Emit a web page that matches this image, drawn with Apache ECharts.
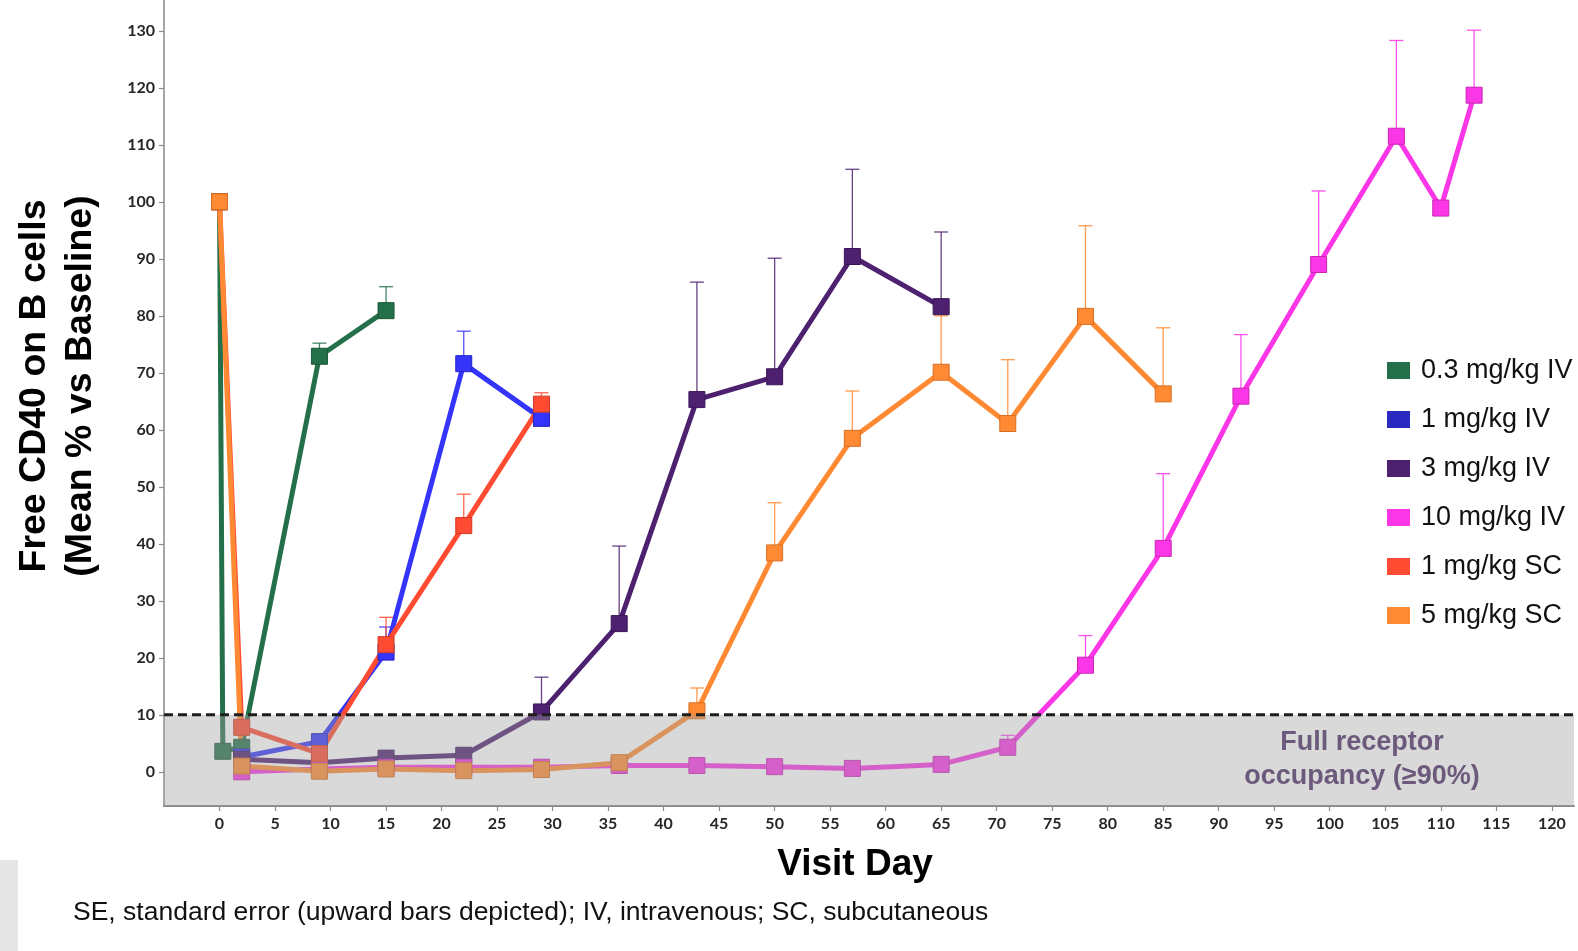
<!DOCTYPE html>
<html>
<head>
<meta charset="utf-8">
<script src="https://cdn.jsdelivr.net/npm/echarts@6/dist/echarts.min.js"></script>
<style>
  html, body { margin: 0; padding: 0; background: #ffffff; }
  #chart { width: 1578px; height: 951px; }
</style>
</head>
<body>
<div id="chart"></div>
<script>
// Free CD40 on B cells, mean % vs baseline, by dose cohort.
// Each cohort: visit days, mean values, upward SE.
const seriesNames = ['0.3 mg/kg IV', '1 mg/kg IV', '3 mg/kg IV', '10 mg/kg IV', '1 mg/kg SC', '5 mg/kg SC'];

const iv03Days = [0, 0.3, 2, 9, 15];
const iv03Mean = [100, 3.6, 4.3, 72.9, 80.9];
const iv03SE   = [0, 0, 0, 2.3, 4.2];

const iv1Days = [2, 9, 15, 22, 29];
const iv1Mean = [2.6, 5.3, 21.0, 71.6, 62.0];
const iv1SE   = [0, 1.3, 4.4, 5.7, 3.2];

const iv3Days = [2, 9, 15, 22, 29, 36, 43, 50, 57, 65];
const iv3Mean = [2.2, 1.6, 2.4, 2.9, 10.5, 26.0, 65.3, 69.3, 90.4, 81.6];
const iv3SE   = [0, 0, 0, 0, 6.1, 13.6, 20.6, 20.8, 15.3, 13.1];

const iv10Days = [2, 9, 15, 22, 29, 36, 43, 50, 57, 65, 71, 78, 85, 92, 99, 106, 110, 113];
const iv10Mean = [0.0, 0.5, 0.8, 0.8, 0.8, 1.1, 1.1, 0.9, 0.6, 1.3, 4.3, 18.7, 39.2, 65.9, 89.0, 111.5, 98.9, 118.7];
const iv10SE   = [0, 0, 0, 0, 0, 0, 0, 0, 0, 0, 2.1, 5.2, 13.1, 10.8, 12.9, 16.8, 0, 11.4];

const sc1Days = [0, 2, 9, 15, 22, 29];
const sc1Mean = [100, 7.8, 3.2, 22.3, 43.2, 64.5];
const sc1SE   = [0, 0, 0, 4.8, 5.5, 2.0];

const sc5Days = [0, 2, 9, 15, 22, 29, 36, 43, 50, 57, 65, 71, 78, 85];
const sc5Mean = [100, 1.0, 0.1, 0.5, 0.2, 0.4, 1.6, 10.7, 38.4, 58.5, 70.1, 61.1, 79.9, 66.3];
const sc5SE   = [0, 0, 0, 0, 0, 0, 0, 4.0, 8.8, 8.3, 9.9, 11.2, 15.9, 11.6];

const xTicks = [0, 5, 10, 15, 20, 25, 30, 35, 40, 45, 50, 55, 60, 65, 70, 75, 80, 85, 90, 95, 100, 105, 110, 115, 120];
const yTicks = [0, 10, 20, 30, 40, 50, 60, 70, 80, 90, 100, 110, 120, 130];

// Full receptor occupancy threshold (free CD40 at or below 10%)
const occupancyThreshold = 10;

const cohorts = [
  { days: iv03Days, mean: iv03Mean, se: iv03SE, line: '#23704a', border: '#1a5737', legend: '#23704a' },
  { days: iv1Days,  mean: iv1Mean,  se: iv1SE,  line: '#3434fb', border: '#2424c4', legend: '#2a2ac0' },
  { days: iv3Days,  mean: iv3Mean,  se: iv3SE,  line: '#4d2170', border: '#3a1656', legend: '#4d2170' },
  { days: iv10Days, mean: iv10Mean, se: iv10SE, line: '#fb36e6', border: '#c826b5', legend: '#fb36e6' },
  { days: sc1Days,  mean: sc1Mean,  se: sc1SE,  line: '#ff4b32', border: '#d23a24', legend: '#ff4b32' },
  { days: sc5Days,  mean: sc5Mean,  se: sc5SE,  line: '#ff8a33', border: '#d86e22', legend: '#ff8a33' }
];

const chart = echarts.init(document.getElementById('chart'), null, { renderer: 'canvas' });

function errorBarRenderer(color) {
  return function (params, api) {
    const x = api.value(0);
    const base = api.coord([x, api.value(1)]);
    const top = api.coord([x, api.value(2)]);
    const half = 7;
    const style = { stroke: color, lineWidth: 1.3, opacity: 0.85 };
    return {
      type: 'group',
      children: [
        { type: 'line', shape: { x1: base[0], y1: base[1], x2: top[0], y2: top[1] }, style: style },
        { type: 'line', shape: { x1: top[0] - half, y1: top[1], x2: top[0] + half, y2: top[1] }, style: style }
      ]
    };
  };
}

const series = [];

// upward SE bars, beneath the lines
cohorts.forEach(function (c, i) {
  const bars = [];
  c.days.forEach(function (d, k) {
    if (c.se[k] > 0) bars.push([d, c.mean[k], c.mean[k] + c.se[k]]);
  });
  series.push({
    type: 'custom',
    name: seriesNames[i] + ' SE',
    silent: true,
    z: 2,
    encode: { x: 0, y: [1, 2] },
    renderItem: errorBarRenderer(c.line),
    data: bars
  });
});

cohorts.forEach(function (c, i) {
  series.push({
    type: 'line',
    name: seriesNames[i],
    z: 3,
    symbol: 'rect',
    symbolSize: 16,
    showAllSymbol: true,
    lineStyle: { width: 5, color: c.line },
    itemStyle: { color: c.line, borderColor: c.border, borderWidth: 1 },
    emphasis: { disabled: true },
    data: c.days.map(function (d, k) { return [d, c.mean[k]]; })
  });
});

// translucent occupancy band laid over the curves, with its dashed threshold
series.push({
  type: 'custom',
  name: 'occupancy band',
  silent: true,
  z: 10,
  data: [[0, occupancyThreshold]],
  renderItem: function (params, api) {
    const cs = params.coordSys;
    const yTop = api.coord([0, occupancyThreshold])[1];
    return {
      type: 'group',
      children: [
        { type: 'rect', shape: { x: cs.x, y: yTop, width: cs.width, height: cs.y + cs.height - yTop },
          style: { fill: 'rgba(160,160,160,0.4)' } },
        { type: 'line', shape: { x1: cs.x, y1: yTop, x2: cs.x + cs.width, y2: yTop },
          style: { stroke: '#1e1e1e', lineWidth: 3, lineDash: [9, 5] } }
      ]
    };
  }
});

const option = {
  animation: false,
  backgroundColor: '#ffffff',
  grid: { left: 164, right: 4, top: 0, bottom: 145 },
  xAxis: {
    type: 'value',
    min: -5,
    max: 122,
    axisLine: { show: true, onZero: false, lineStyle: { color: '#8a8a8a', width: 2 } },
    axisTick: { show: true, length: 5, customValues: xTicks, lineStyle: { color: '#8a8a8a', width: 1.2 } },
    axisLabel: { customValues: xTicks, margin: 10, fontFamily: 'Lato', fontWeight: 'bold', fontSize: 16, color: '#262626' },
    splitLine: { show: false }
  },
  yAxis: {
    type: 'value',
    min: -6,
    max: 135.4,
    axisLine: { show: true, onZero: false, lineStyle: { color: '#8a8a8a', width: 1.5 } },
    axisTick: { show: true, length: 5, customValues: yTicks, lineStyle: { color: '#8a8a8a', width: 1.2 } },
    axisLabel: { customValues: yTicks, margin: 9, fontFamily: 'Lato', fontWeight: 'bold', fontSize: 16, color: '#262626' },
    splitLine: { show: false }
  },
  legend: {
    orient: 'vertical',
    left: 1382,
    top: 352,
    itemWidth: 23,
    itemHeight: 17,
    itemGap: 22,
    icon: 'rect',
    selectedMode: false,
    itemStyle: { borderWidth: 0 },
    textStyle: { fontFamily: 'Liberation Sans', fontSize: 27, color: '#111111', padding: [0, 0, 0, 6] },
    data: seriesNames.map(function (n, i) { return { name: n, itemStyle: { color: cohorts[i].legend, borderWidth: 0 } }; })
  },
  graphic: [
    {
      type: 'text', x: 58, y: 386, rotation: Math.PI / 2, z: 100,
      style: { text: 'Free CD40 on B cells\n(Mean % vs Baseline)', font: 'bold 37.5px "Liberation Sans"',
               fill: '#000000', align: 'center', verticalAlign: 'middle', lineHeight: 46 }
    },
    {
      type: 'text', x: 855, y: 865, z: 100,
      style: { text: 'Visit Day', font: 'bold 37px "Liberation Sans"', fill: '#000000', align: 'center', verticalAlign: 'middle' }
    },
    {
      type: 'text', x: 1362, y: 760, z: 100,
      style: { text: 'Full receptor\noccupancy (≥90%)', font: 'bold 27px "Liberation Sans"', fill: '#6c5a7c',
               align: 'center', verticalAlign: 'middle', lineHeight: 34 }
    },
    {
      type: 'rect', z: 100, shape: { x: 0, y: 860, width: 18, height: 91 }, style: { fill: '#e6e6e6' }
    },
    {
      type: 'text', x: 73, y: 913, z: 100,
      style: { text: 'SE, standard error (upward bars depicted); IV, intravenous; SC, subcutaneous',
               font: '26.5px "Liberation Sans"', fill: '#111111', align: 'left', verticalAlign: 'middle' }
    }
  ],
  series: series
};

chart.setOption(option);
</script>
</body>
</html>
